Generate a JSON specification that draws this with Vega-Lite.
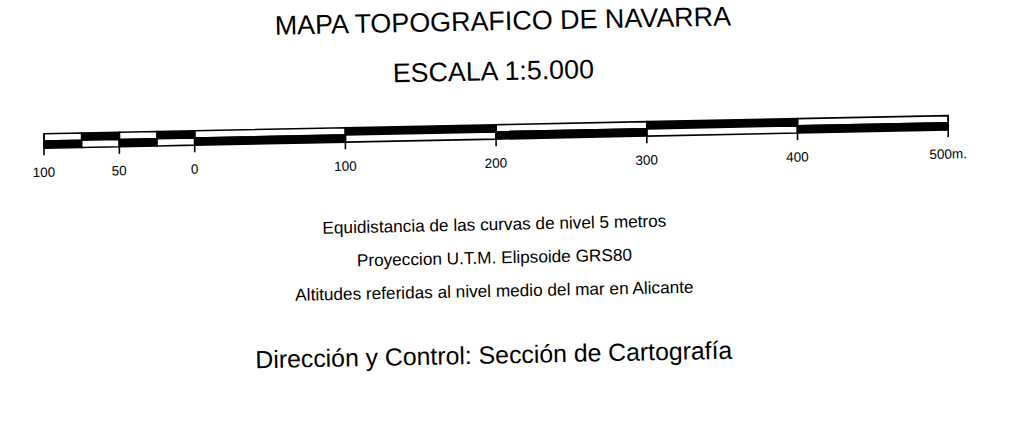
{
  "$schema": "https://vega.github.io/schema/vega-lite/v6.json",
  "width": 1021,
  "height": 422,
  "autosize": {"type": "fit", "contains": "padding"},
  "padding": 0,
  "background": "white",
  "config": {"view": {"stroke": null}, "text": {"color": "black"}},
  "datasets": {
    "segments": [
      {"from": -100, "to": -75, "band": "upper", "shade": "light"},
      {"from": -75, "to": -50, "band": "upper", "shade": "dark"},
      {"from": -50, "to": -25, "band": "upper", "shade": "light"},
      {"from": -25, "to": 0, "band": "upper", "shade": "dark"},
      {"from": 0, "to": 100, "band": "upper", "shade": "light"},
      {"from": 100, "to": 200, "band": "upper", "shade": "dark"},
      {"from": 200, "to": 300, "band": "upper", "shade": "light"},
      {"from": 300, "to": 400, "band": "upper", "shade": "dark"},
      {"from": 400, "to": 500, "band": "upper", "shade": "light"},
      {"from": -100, "to": -75, "band": "lower", "shade": "dark"},
      {"from": -75, "to": -50, "band": "lower", "shade": "light"},
      {"from": -50, "to": -25, "band": "lower", "shade": "dark"},
      {"from": -25, "to": 0, "band": "lower", "shade": "light"},
      {"from": 0, "to": 100, "band": "lower", "shade": "dark"},
      {"from": 100, "to": 200, "band": "lower", "shade": "light"},
      {"from": 200, "to": 300, "band": "lower", "shade": "dark"},
      {"from": 300, "to": 400, "band": "lower", "shade": "light"},
      {"from": 400, "to": 500, "band": "lower", "shade": "dark"}
    ],
    "ticks": [
      {"m": -100, "label": "100"},
      {"m": -50, "label": "50"},
      {"m": 0, "label": "0"},
      {"m": 100, "label": "100"},
      {"m": 200, "label": "200"},
      {"m": 300, "label": "300"},
      {"m": 400, "label": "400"},
      {"m": 500, "label": "500m."}
    ],
    "texts": [
      {"text": "MAPA TOPOGRAFICO DE NAVARRA", "role": "title", "line": 0},
      {"text": "ESCALA 1:5.000", "role": "scale", "line": 3},
      {"text": "Equidistancia de las curvas de nivel 5 metros", "role": "note", "line": 12},
      {"text": "Proyeccion U.T.M. Elipsoide GRS80", "role": "note", "line": 14},
      {"text": "Altitudes referidas al nivel medio del mar en Alicante", "role": "note", "line": 16},
      {"text": "Dirección y Control: Sección de Cartografía", "role": "credit", "line": 20}
    ]
  },
  "resolve": {"scale": {"y": "independent"}},
  "layer": [
    {
      "data": {"name": "segments"},
      "transform": [
        {"filter": "datum.band === 'upper'"},
        {"fold": ["from", "to"], "as": ["end", "m"]}
      ],
      "mark": {"type": "area", "orient": "vertical", "stroke": "black", "strokeWidth": 1.6, "y2Offset": 7.2},
      "encoding": {
        "x": {"field": "m", "type": "quantitative", "scale": {"domain": [-129.2, 548.3], "nice": false, "zero": false}, "axis": null},
        "y": {"field": "m", "type": "quantitative", "stack": null, "scale": {"domain": [-100, 500], "range": [133.8, 115.6], "nice": false, "zero": false}, "axis": null},
        "y2": {"field": "m"},
        "detail": {"field": "from", "type": "nominal"},
        "fill": {"field": "shade", "type": "nominal", "scale": {"domain": ["dark", "light"], "range": ["black", "white"]}, "legend": null}
      }
    },
    {
      "data": {"name": "segments"},
      "transform": [
        {"filter": "datum.band === 'lower'"},
        {"fold": ["from", "to"], "as": ["end", "m"]}
      ],
      "mark": {"type": "area", "orient": "vertical", "stroke": "black", "strokeWidth": 1.6, "yOffset": 7.2, "y2Offset": 14.4},
      "encoding": {
        "x": {"field": "m", "type": "quantitative", "axis": null},
        "y": {"field": "m", "type": "quantitative", "stack": null, "scale": {"domain": [-100, 500], "range": [133.8, 115.6], "nice": false, "zero": false}, "axis": null},
        "y2": {"field": "m"},
        "detail": {"field": "from", "type": "nominal"},
        "fill": {"field": "shade", "type": "nominal", "legend": null}
      }
    },
    {
      "data": {"name": "ticks"},
      "mark": {"type": "rule", "stroke": "black", "strokeWidth": 1.6, "y2Offset": 21.5},
      "encoding": {
        "x": {"field": "m", "type": "quantitative", "axis": null},
        "y": {"field": "m", "type": "quantitative", "scale": {"domain": [-100, 500], "range": [133.8, 115.6], "nice": false, "zero": false}, "axis": null},
        "y2": {"field": "m"}
      }
    },
    {
      "data": {"name": "ticks"},
      "mark": {"type": "text", "font": "Liberation Sans", "fontSize": 13.5, "align": "center", "baseline": "alphabetic", "angle": 358.84, "yOffset": 43},
      "encoding": {
        "x": {"field": "m", "type": "quantitative", "axis": null},
        "y": {"field": "m", "type": "quantitative", "scale": {"domain": [-100, 500], "range": [133.8, 115.6], "nice": false, "zero": false}, "axis": null},
        "text": {"field": "label"}
      }
    },
    {
      "data": {"name": "texts"},
      "transform": [{"filter": "datum.role === 'title'"}],
      "mark": {"type": "text", "font": "Liberation Sans", "fontSize": 26.9, "align": "center", "baseline": "alphabetic", "angle": 358.84, "dx": -7.5},
      "encoding": {
        "y": {"field": "line", "type": "quantitative", "scale": {"domain": [0, 20], "range": [29.9, 363.1], "nice": false, "zero": false}, "axis": null},
        "text": {"field": "text"}
      }
    },
    {
      "data": {"name": "texts"},
      "transform": [{"filter": "datum.role === 'scale'"}],
      "mark": {"type": "text", "font": "Liberation Sans", "fontSize": 26.8, "align": "center", "baseline": "alphabetic", "angle": 358.84, "dx": -17},
      "encoding": {
        "y": {"field": "line", "type": "quantitative", "scale": {"domain": [0, 20], "range": [29.9, 363.1], "nice": false, "zero": false}, "axis": null},
        "text": {"field": "text"}
      }
    },
    {
      "data": {"name": "texts"},
      "transform": [{"filter": "datum.role === 'note'"}],
      "mark": {"type": "text", "font": "Liberation Sans", "fontSize": 17.2, "align": "center", "baseline": "alphabetic", "angle": 358.84, "dx": -16},
      "encoding": {
        "y": {"field": "line", "type": "quantitative", "scale": {"domain": [0, 20], "range": [29.9, 363.1], "nice": false, "zero": false}, "axis": null},
        "text": {"field": "text"}
      }
    },
    {
      "data": {"name": "texts"},
      "transform": [{"filter": "datum.role === 'credit'"}],
      "mark": {"type": "text", "font": "Liberation Sans", "fontSize": 24.8, "align": "center", "baseline": "alphabetic", "angle": 358.84, "dx": -16.5},
      "encoding": {
        "y": {"field": "line", "type": "quantitative", "scale": {"domain": [0, 20], "range": [29.9, 363.1], "nice": false, "zero": false}, "axis": null},
        "text": {"field": "text"}
      }
    }
  ]
}
